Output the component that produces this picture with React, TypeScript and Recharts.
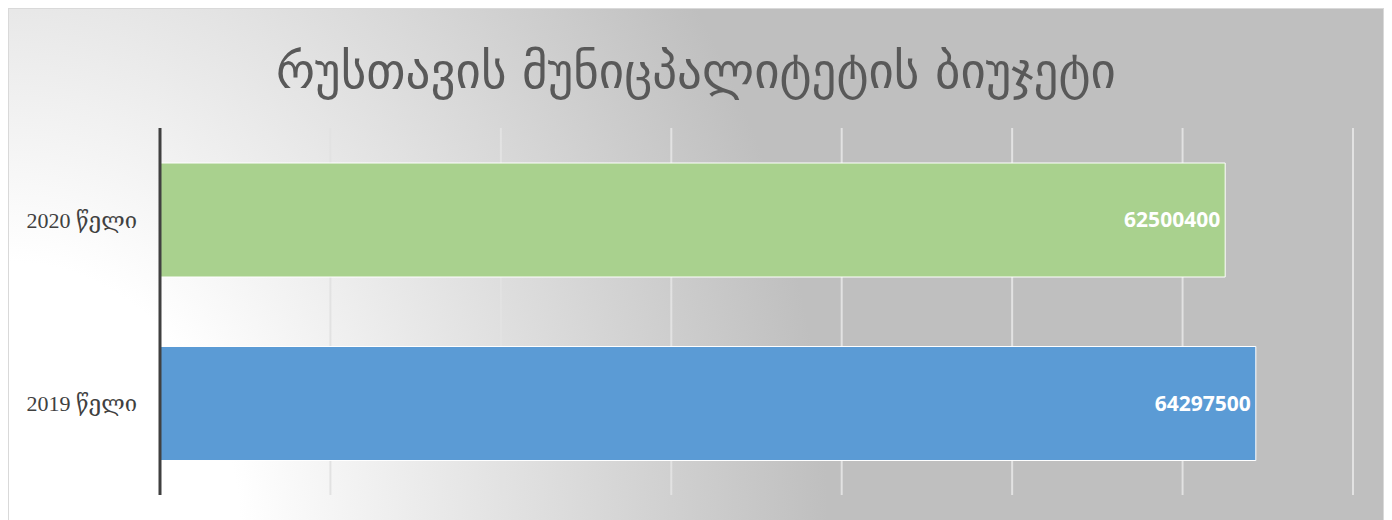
import React from 'react';
import { BarChart, Bar, XAxis, YAxis, CartesianGrid, Cell, LabelList } from 'recharts';

const years = ['2020 წელი', '2019 წელი'];
const budget = [62500400, 64297500];
const barColors = ['#a9d18e', '#5b9bd5'];
const xTicks = [0, 10000000, 20000000, 30000000, 40000000, 50000000, 60000000, 70000000];

const data = years.map((year, i) => ({ year, value: budget[i] }));

export default function App() {
  return (
    <div
      style={{
        position: 'relative',
        width: 1376,
        height: 530,
        boxSizing: 'border-box',
        border: '1px solid #d9d9d9',
        background:
          'radial-gradient(ellipse 1050px 1250px at 0% 100%, #ffffff 22%, #bfbfbf 78%)',
      }}
    >
      <div
        style={{
          position: 'absolute',
          top: 30,
          left: 0,
          width: '100%',
          textAlign: 'center',
          fontFamily: '"DejaVu Sans", sans-serif',
          fontSize: 49,
          color: '#595959',
          lineHeight: '66px',
        }}
      >
        რუსთავის მუნიცპალიტეტის ბიუჯეტი
      </div>
      <BarChart
        width={1374}
        height={528}
        data={data}
        layout="vertical"
        margin={{ top: 119, right: 30, bottom: 42, left: 11 }}
      >
        <CartesianGrid horizontal={false} stroke="#e2e2e2" strokeWidth={2} />
        <XAxis type="number" domain={[0, 70000000]} ticks={xTicks} hide />
        <YAxis
          type="category"
          dataKey="year"
          width={140}
          axisLine={{ stroke: '#404040', strokeWidth: 3 }}
          tickLine={false}
          tickSize={0}
          tickMargin={23}
          tick={{ fill: '#404040', fontSize: 22, fontFamily: '"Liberation Serif", "DejaVu Serif", serif' }}
        />
        <Bar dataKey="value" barSize={114} stroke="#ffffff" strokeWidth={1} isAnimationActive={false}>
          {data.map((d, i) => (
            <Cell key={d.year} fill={barColors[i]} />
          ))}
          <LabelList
            dataKey="value"
            position="insideRight"
            fill="#ffffff"
            style={{ fontFamily: '"Open Sans", sans-serif', fontWeight: 700, fontSize: 21 }}
          />
        </Bar>
      </BarChart>
    </div>
  );
}
